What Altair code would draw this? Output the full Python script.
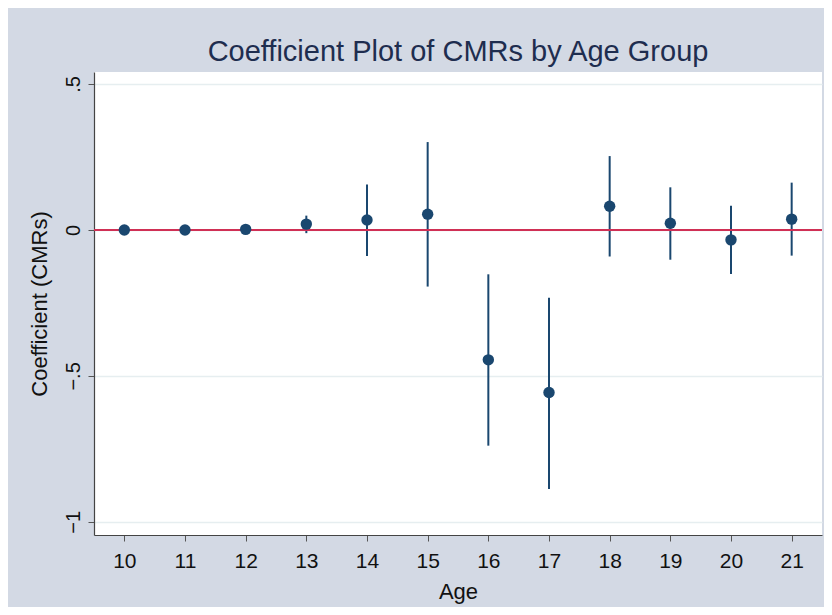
import altair as alt
import pandas as pd

ages = [10, 11, 12, 13, 14, 15, 16, 17, 18, 19, 20, 21]
coef = [0.0, 0.0, 0.002, 0.02, 0.034, 0.054, -0.445, -0.557, 0.081, 0.023, -0.034, 0.037]
ci_low = [0.0, 0.0, 0.002, -0.011, -0.089, -0.194, -0.739, -0.887, -0.091, -0.102, -0.151, -0.088]
ci_high = [0.0, 0.0, 0.002, 0.049, 0.156, 0.301, -0.152, -0.232, 0.253, 0.146, 0.083, 0.162]

df = pd.DataFrame({"age": ages, "coef": coef, "lo": ci_low, "hi": ci_high})

navy = "#1a476f"
bg = "#d3d9e4"
font = "Liberation Sans"

xscale = alt.Scale(domain=[9.5, 21.5], nice=False, zero=False)
yscale = alt.Scale(domain=[-1.045, 0.541], nice=False, zero=False)

xaxis = alt.Axis(
    title="Age", values=ages, format="d", grid=False,
    labelFont=font, labelFontSize=21, labelColor="#111111", labelPadding=9,
    titleFont=font, titleFontSize=22, titleFontWeight="normal", titleColor="#111111",
    titlePadding=10, tickSize=6, tickColor="#555555", domainColor="#444444", domainWidth=1.2,
)
yaxis = alt.Axis(
    title="Coefficient (CMRs)", values=[-1, -0.5, 0, 0.5],
    labelExpr="datum.value == 0 ? '0' : replace(format(datum.value, '.1~f'), '0.', '.')",
    labelAngle=270, labelAlign="center", labelBaseline="bottom", labelPadding=5,
    labelFont=font, labelFontSize=20, labelColor="#111111",
    titleFont=font, titleFontSize=22, titleFontWeight="normal", titleColor="#111111",
    titlePadding=12, tickSize=6, tickColor="#555555", domainColor="#444444", domainWidth=1.2,
    grid=True, gridColor="#e6eef0", gridWidth=1.5,
)

base = alt.Chart(df)

rules = base.mark_rule(color=navy, strokeWidth=2).encode(
    x=alt.X("age:Q", scale=xscale, axis=xaxis),
    y=alt.Y("lo:Q", scale=yscale, axis=yaxis),
    y2="hi:Q",
)

zero = alt.Chart(pd.DataFrame({"z": [0]})).mark_rule(color="#d03055", strokeWidth=2).encode(
    y=alt.Y("z:Q", scale=yscale)
)

points = base.mark_circle(color=navy, opacity=1, size=130).encode(
    x=alt.X("age:Q", scale=xscale),
    y=alt.Y("coef:Q", scale=yscale),
)

chart = (
    alt.layer(rules, zero, points)
    .properties(
        width=728, height=463,
        title=alt.Title("Coefficient Plot of CMRs by Age Group", font=font, fontSize=29,
                        fontWeight="normal", color="#1e2d4f", anchor="middle", offset=5),
        background=bg,
        padding={"left": 86, "top": 64, "right": 2, "bottom": 72},
        autosize=alt.AutoSizeParams(type="none"),
    )
    .configure_view(fill="white", stroke=None)
)

chart.save("out.html", embed_options={"renderer": "svg", "actions": False})
